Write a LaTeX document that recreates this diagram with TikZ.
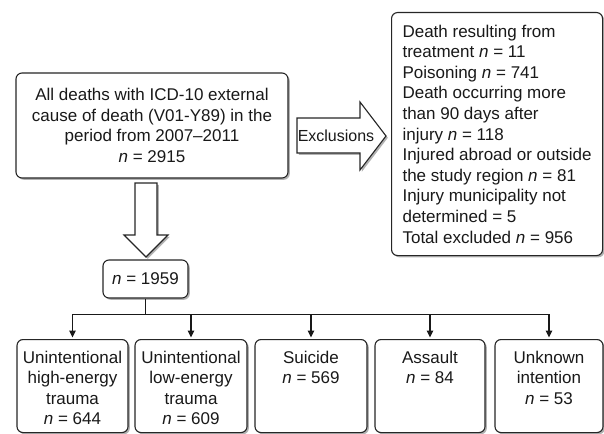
\documentclass[tikz,border=0pt]{standalone}
\usepackage{fontspec}
\setmainfont{Liberation Sans}
\usetikzlibrary{shadows,arrows.meta}
\begin{document}
\begin{tikzpicture}[x=1pt,y=-1pt,
  every node/.style={font=\fontsize{17}{20.6}\selectfont, text=black!90},
  shadowed/.style={drop shadow={shadow xshift=1.8pt, shadow yshift=-1.8pt, fill=black!55, opacity=0.55}},
  box/.style={draw=black!85, line width=1.1pt, rounded corners=6pt, fill=white, shadowed, inner sep=0pt},
  blockarrow/.style={draw=black!85, line width=1.1pt, fill=white, line join=miter, shadowed},
  conn/.style={draw=black!90, line width=1.3pt},
  tipped/.style={-{Triangle[length=7pt,width=6.5pt]}, shorten >=1.5pt},
  lbl/.style={anchor=north, inner sep=0pt, align=center}
]
\useasboundingbox (0,0) rectangle (604,433);

% main box
\node[box, minimum width=272, minimum height=105, align=center] (all) at (152,125.5)
  {All deaths with ICD-10 external\\cause of death (V01-Y89) in the\\period from 2007--2011\\\textit{n} = 2915};

% exclusions block arrow
\draw[blockarrow] (297,118) -- (360,118) -- (360,102) -- (386,136) -- (360,170) -- (360,153) -- (297,153) -- cycle;
\node[inner sep=0pt, font=\fontsize{16}{19}\selectfont] (exlabel) at (336,135.5) {Exclusions};

% exclusion list
\node[box, anchor=north west, minimum width=211, minimum height=243, align=left] (excl) at (391,12)
  {Death resulting from\\treatment \textit{n} = 11\\Poisoning \textit{n} = 741\\Death occurring more\\than 90 days after\\injury \textit{n} = 118\\Injured abroad or outside\\the study region \textit{n} = 81\\Injury municipality not\\determined = 5\\Total excluded \textit{n} = 956};

% down block arrow
\draw[blockarrow] (135,183) -- (157,183) -- (157,235) -- (168,235) -- (146,257) -- (124,235) -- (135,235) -- cycle;

% n = 1959
\node[box, minimum width=85, minimum height=38] (n) at (145.5,279) {\textit{n} = 1959};

% bottom boxes
\node[box, anchor=north, minimum width=111, minimum height=93] (b1) at (72.5,339) {};
\node[box, anchor=north, minimum width=112, minimum height=93] (b2) at (191,339) {};
\node[box, anchor=north, minimum width=112, minimum height=93] (b3) at (311,339) {};
\node[box, anchor=north, minimum width=110, minimum height=93] (b4) at (430,339) {};
\node[box, anchor=north, minimum width=108, minimum height=93] (b5) at (549,339) {};

\node[lbl] (t1) at ([yshift=-11.5pt]b1.north) {Unintentional\\high-energy\\trauma\\\textit{n} = 644};
\node[lbl] (t2) at ([yshift=-11.5pt]b2.north) {Unintentional\\low-energy\\trauma\\\textit{n} = 609};
\node[lbl] (t3) at ([yshift=-11.5pt]b3.north) {Suicide\\\textit{n} = 569};
\node[lbl] (t4) at ([yshift=-11.5pt]b4.north) {Assault\\\textit{n} = 84};
\node[lbl] (t5) at ([yshift=-11.5pt]b5.north) {Unknown\\intention\\\textit{n} = 53};

% connectors
\draw[conn] (n.south) -- ++(0,16) coordinate (split);
\foreach \b in {b1,b2,b3,b4,b5}
  \draw[conn,tipped] (split) -| (\b.north);
\end{tikzpicture}
\end{document}
